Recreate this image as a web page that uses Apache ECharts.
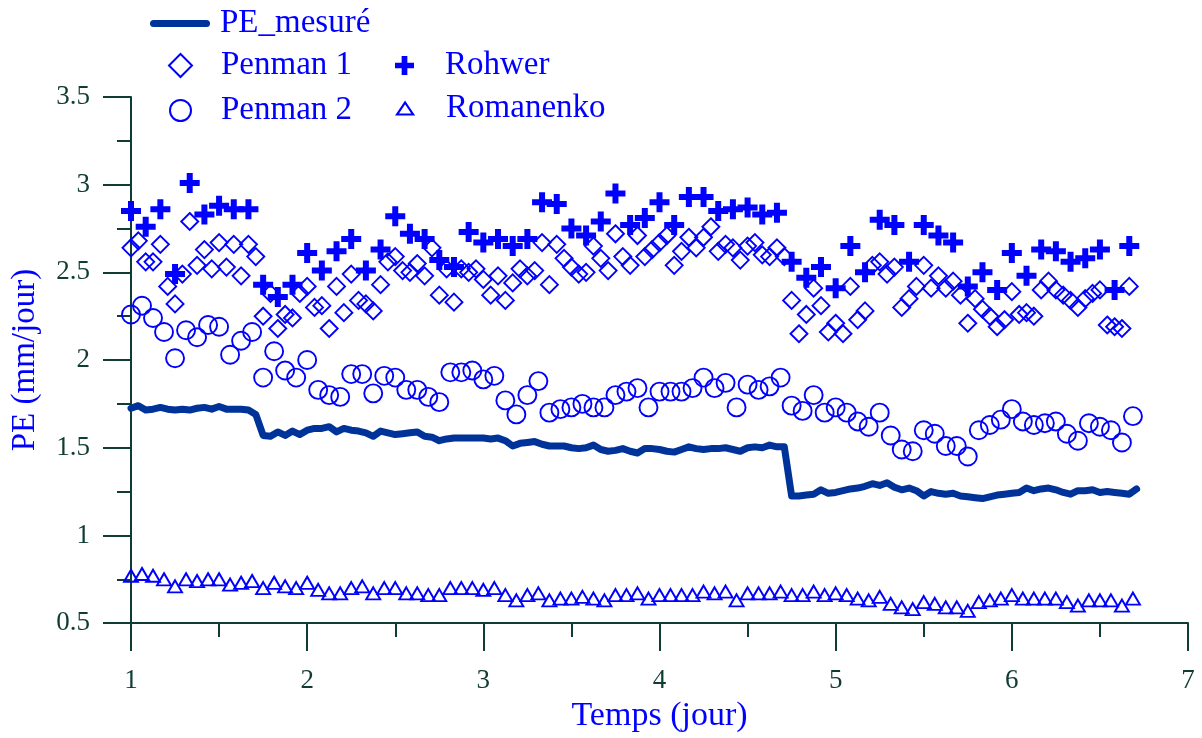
<!DOCTYPE html>
<html>
<head>
<meta charset="utf-8">
<script src="https://cdn.jsdelivr.net/npm/echarts@6/dist/echarts.min.js"></script>
<style>html,body{margin:0;padding:0;background:#fff}#chart{width:1202px;height:738px}</style>
</head>
<body>
<div id="chart"></div>
<script>
// ---- Data (time in days; values in mm/jour) ----
const T0 = 1;
const stepPE = 1 / 24;        // hourly
const stepPenman1 = 1 / 24;   // hourly
const stepPenman2 = 1 / 16;   // every 1.5 h
const stepRohwer = 1 / 12;    // every 2 h
const stepRomanenko = 1 / 16; // every 1.5 h

const peMesure = [
  1.725,1.74,1.715,1.72,1.73,1.72,1.715,1.72,1.715,1.725,1.73,1.72,1.735,1.72,1.72,1.72,1.715,1.69,1.57,1.565,1.59,1.57,1.595,1.575,
  1.60,1.61,1.61,1.62,1.59,1.61,1.60,1.595,1.585,1.565,1.595,1.585,1.575,1.58,1.585,1.59,1.565,1.56,1.54,1.55,1.555,1.555,1.555,1.555,
  1.555,1.55,1.555,1.54,1.51,1.525,1.53,1.535,1.52,1.51,1.51,1.51,1.50,1.495,1.50,1.515,1.49,1.48,1.485,1.495,1.48,1.47,1.495,1.495,
  1.49,1.48,1.475,1.49,1.505,1.495,1.49,1.495,1.495,1.50,1.49,1.48,1.50,1.505,1.50,1.515,1.505,1.505,1.225,1.225,1.23,1.235,1.26,1.24,
  1.245,1.255,1.265,1.27,1.28,1.295,1.285,1.30,1.275,1.26,1.27,1.255,1.225,1.25,1.24,1.235,1.24,1.225,1.22,1.215,1.21,1.22,1.23,1.235,
  1.24,1.245,1.27,1.255,1.265,1.27,1.26,1.245,1.235,1.255,1.255,1.26,1.245,1.25,1.245,1.24,1.235,1.265
];

const penman1 = [
  2.64,2.68,2.56,2.56,2.66,2.42,2.32,2.49,2.79,2.54,
  2.63,2.52,2.67,2.53,2.66,2.48,2.66,2.59,2.25,2.38,
  2.18,2.26,2.24,2.38,2.42,2.30,2.31,2.18,2.42,2.27,
  2.49,2.34,2.32,2.28,2.43,2.56,2.59,2.51,2.50,2.55,
  2.48,2.64,2.37,2.52,2.33,2.52,2.50,2.52,2.46,2.37,
  2.48,2.34,2.44,2.52,2.48,2.51,2.67,2.43,2.66,2.58,
  2.53,2.49,2.50,2.65,2.58,2.51,2.72,2.59,2.54,2.71,
  2.59,2.63,2.67,2.71,2.54,2.62,2.70,2.64,2.70,2.76,
  2.62,2.66,2.64,2.57,2.65,2.67,2.60,2.59,2.64,2.59,
  2.34,2.15,2.26,2.41,2.31,2.16,2.21,2.15,2.42,2.23,
  2.28,2.54,2.56,2.49,2.53,2.30,2.35,2.42,2.54,2.41,
  2.48,2.41,2.45,2.37,2.21,2.35,2.29,2.25,2.19,2.23,
  2.39,2.26,2.27,2.25,2.40,2.45,2.40,2.37,2.34,2.30,
  2.35,2.38,2.40,2.20,2.19,2.18,2.42
];

const penman2 = [
  2.26,2.31,2.24,2.16,2.01,2.17,2.13,2.20,2.19,2.03,2.11,2.16,1.90,2.05,1.94,1.90,
  2.00,1.83,1.80,1.79,1.92,1.92,1.81,1.91,1.90,1.83,1.83,1.79,1.76,1.93,1.93,1.94,
  1.89,1.91,1.77,1.69,1.80,1.88,1.70,1.72,1.73,1.75,1.73,1.73,1.80,1.82,1.84,1.73,
  1.82,1.82,1.82,1.84,1.90,1.84,1.87,1.73,1.86,1.83,1.85,1.90,1.74,1.71,1.80,1.70,
  1.73,1.70,1.65,1.62,1.70,1.57,1.49,1.48,1.60,1.58,1.51,1.51,1.45,1.60,1.63,1.66,
  1.72,1.65,1.63,1.64,1.65,1.58,1.54,1.64,1.62,1.60,1.53,1.68
];

const rohwer = [
  2.85,2.76,2.86,2.49,3.01,2.83,2.88,2.86,2.86,2.43,2.36,2.43,
  2.61,2.51,2.62,2.69,2.51,2.63,2.82,2.72,2.69,2.57,2.53,2.73,
  2.67,2.69,2.65,2.69,2.90,2.89,2.75,2.71,2.79,2.95,2.77,2.81,
  2.90,2.77,2.93,2.93,2.85,2.86,2.87,2.83,2.84,2.56,2.47,2.53,
  2.41,2.65,2.50,2.80,2.77,2.56,2.77,2.71,2.67,2.42,2.50,2.40,
  2.61,2.48,2.63,2.62,2.56,2.58,2.63,2.40,2.65
];

const romanenko = [
  0.77,0.78,0.77,0.75,0.71,0.75,0.74,0.75,0.75,0.72,0.73,0.74,0.70,0.73,0.71,0.70,
  0.73,0.69,0.67,0.67,0.70,0.71,0.67,0.70,0.70,0.67,0.67,0.66,0.66,0.70,0.70,0.70,
  0.69,0.70,0.66,0.63,0.66,0.67,0.63,0.64,0.64,0.65,0.64,0.63,0.66,0.66,0.67,0.64,
  0.66,0.66,0.66,0.66,0.68,0.67,0.68,0.63,0.67,0.67,0.67,0.68,0.66,0.66,0.68,0.66,
  0.67,0.66,0.64,0.63,0.65,0.61,0.59,0.58,0.62,0.61,0.59,0.59,0.57,0.62,0.63,0.64,
  0.66,0.64,0.64,0.64,0.64,0.62,0.60,0.63,0.63,0.63,0.60,0.64
];

// ---- Styling ----
const FONT = 'Liberation Serif';
const AX = '#103c34';
const BLUE = '#0000ff';
const NAVY = '#003399';
const PLUS = 'path://M7,0H13V7H20V13H13V20H7V13H0V7H7Z';
const CAPSULE = 'path://M3.5,0H56.5A3.5,3.5,0,0,1,56.5,7H3.5A3.5,3.5,0,0,1,3.5,0Z';
const HOLLOW = {color: 'rgba(0,0,0,0)', borderColor: BLUE, borderWidth: 1.9, opacity: 1};

function pairs(values, step) { return values.map((v, i) => [T0 + i * step, v]); }

function legendBox(item, left, top, w, h, pad, extra) {
  return Object.assign({
    data: [item], left: left, top: top, padding: 0,
    itemWidth: w, itemHeight: h, selectedMode: false,
    textStyle: {fontFamily: FONT, fontSize: 33, color: BLUE, padding: [0, 0, 0, pad]}
  }, extra || {});
}

function axisCommon() {
  return {
    axisLine: {show: true, onZero: false, lineStyle: {color: AX, width: 2}},
    axisTick: {show: true, length: 28, lineStyle: {color: AX, width: 2}},
    minorTick: {show: true, splitNumber: 2, length: 14, lineStyle: {color: AX, width: 2}},
    splitLine: {show: false},
    minorSplitLine: {show: false}
  };
}

const chart = echarts.init(document.getElementById('chart'), null, {renderer: 'canvas'});
chart.setOption({
  animation: false,
  backgroundColor: '#ffffff',
  grid: {left: 131, right: 14, top: 97, bottom: 112, containLabel: false},
  legend: [
    legendBox({name: 'PE_mesuré', icon: CAPSULE, itemStyle: {color: NAVY, borderWidth: 0, opacity: 1}}, 150, 7, 60, 7, 5),
    legendBox({name: 'Penman 1', itemStyle: {color: 'rgba(0,0,0,0)', borderColor: BLUE, borderWidth: 2, opacity: 1}}, 168, 49, 23, 23, 24),
    legendBox({name: 'Penman 2', itemStyle: {color: 'rgba(0,0,0,0)', borderColor: BLUE, borderWidth: 2, opacity: 1}}, 169, 94, 21, 21, 25),
    legendBox({name: 'Rohwer', itemStyle: {color: BLUE, borderWidth: 0, opacity: 1}}, 395, 49, 19, 19, 26),
    legendBox({name: 'Romanenko', itemStyle: {color: 'rgba(0,0,0,0)', borderColor: BLUE, borderWidth: 2.2, opacity: 1}}, 396, 92, 16, 12, 28, {symbolKeepAspect: false})
  ],
  xAxis: Object.assign(axisCommon(), {
    type: 'value', min: 1, max: 7, interval: 1,
    axisLabel: {fontFamily: FONT, fontSize: 27, color: AX, margin: 44},
    name: 'Temps (jour)', nameLocation: 'middle', nameGap: 73,
    nameTextStyle: {fontFamily: FONT, fontSize: 34, color: BLUE}
  }),
  yAxis: Object.assign(axisCommon(), {
    type: 'value', min: 0.5, max: 3.5, interval: 0.5,
    axisLabel: {fontFamily: FONT, fontSize: 27, color: AX, margin: 41},
    name: 'PE (mm/jour)', nameLocation: 'middle', nameGap: 89,
    nameTextStyle: {fontFamily: FONT, fontSize: 33, color: BLUE}
  }),
  series: [
    {
      name: 'PE_mesuré', type: 'line', data: pairs(peMesure, stepPE),
      symbol: 'none', showSymbol: false, clip: false,
      lineStyle: {color: NAVY, width: 7, cap: 'round', join: 'round', opacity: 1},
      itemStyle: {color: NAVY}, emphasis: {disabled: true}
    },
    {
      name: 'Penman 1', type: 'scatter', data: pairs(penman1, stepPenman1),
      symbol: 'diamond', symbolSize: 17, clip: false,
      itemStyle: HOLLOW, emphasis: {disabled: true}
    },
    {
      name: 'Penman 2', type: 'scatter', data: pairs(penman2, stepPenman2),
      symbol: 'circle', symbolSize: 18, clip: false,
      itemStyle: HOLLOW, emphasis: {disabled: true}
    },
    {
      name: 'Rohwer', type: 'scatter', data: pairs(rohwer, stepRohwer),
      symbol: PLUS, symbolSize: 20, clip: false,
      itemStyle: {color: BLUE, opacity: 1}, emphasis: {disabled: true}
    },
    {
      name: 'Romanenko', type: 'scatter', data: pairs(romanenko, stepRomanenko),
      symbol: 'triangle', symbolSize: [14, 12], clip: false,
      itemStyle: HOLLOW, emphasis: {disabled: true}
    }
  ]
});
</script>
</body>
</html>
